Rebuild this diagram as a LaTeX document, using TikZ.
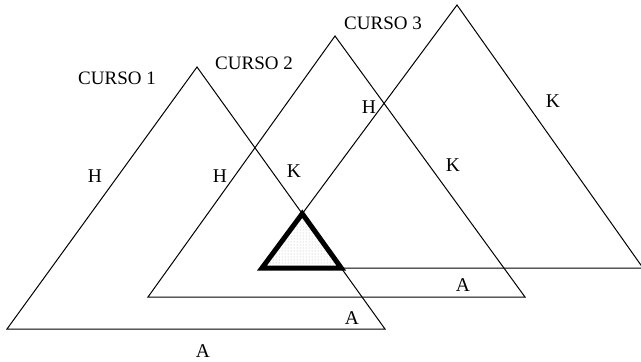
\documentclass[tikz,border=0pt]{standalone}
\usepackage{fontspec}
\setmainfont{Liberation Serif}
\usetikzlibrary{patterns}
\begin{document}
\begin{tikzpicture}[x=1pt,y=-1pt,
  edge/.style={line width=1pt, line join=miter},
  boldtri/.style={line width=5pt, line join=miter},
  lbl/.style={font=\fontsize{19.5}{19.5}\selectfont, inner sep=0pt},
  curso/.style={font=\fontsize{19}{19}\selectfont, inner sep=0pt}]
\useasboundingbox (0,0) rectangle (641,362);
% triangle vertices
\coordinate (a1) at (7,329);
\coordinate (b1) at (197,67);
\coordinate (c1) at (385,329);
\coordinate (a2) at (148,297);
\coordinate (b2) at (335,36);
\coordinate (c2) at (525,297);
\coordinate (a3) at (262,268);
\coordinate (b3) at (457,5);
\coordinate (c3) at (643,268);
\coordinate (p) at (intersection of b1--c1 and a3--b3);
\coordinate (q) at (intersection of b1--c1 and a3--c3);
% shaded intersection
\fill[pattern=dots, pattern color=gray!60] (a3) -- (p) -- (q) -- cycle;
% triangles
\draw[edge] (a1) -- (b1) -- (c1) -- cycle;
\draw[edge] (a2) -- (b2) -- (c2) -- cycle;
\draw[edge] (a3) -- (b3) -- (c3) -- cycle;
\draw[boldtri] (a3) -- (p) -- (q) -- cycle;
% labels
\node[curso] (t1) at (117,78) {CURSO 1};
\node[curso] (t2) at (254,63) {CURSO 2};
\node[curso] (t3) at (383,23) {CURSO 3};
\node[lbl] (h1) at (95,176) {H};
\node[lbl] (h2) at (220,176) {H};
\node[lbl] (k1) at (294,171) {K};
\node[lbl] (h3) at (369,107) {H};
\node[lbl] (k2) at (453,165) {K};
\node[lbl] (k3) at (553,101) {K};
\node[lbl] (A3) at (463,285) {A};
\node[lbl] (A2) at (352,318) {A};
\node[lbl] (A1) at (203,351) {A};
\end{tikzpicture}
\end{document}
